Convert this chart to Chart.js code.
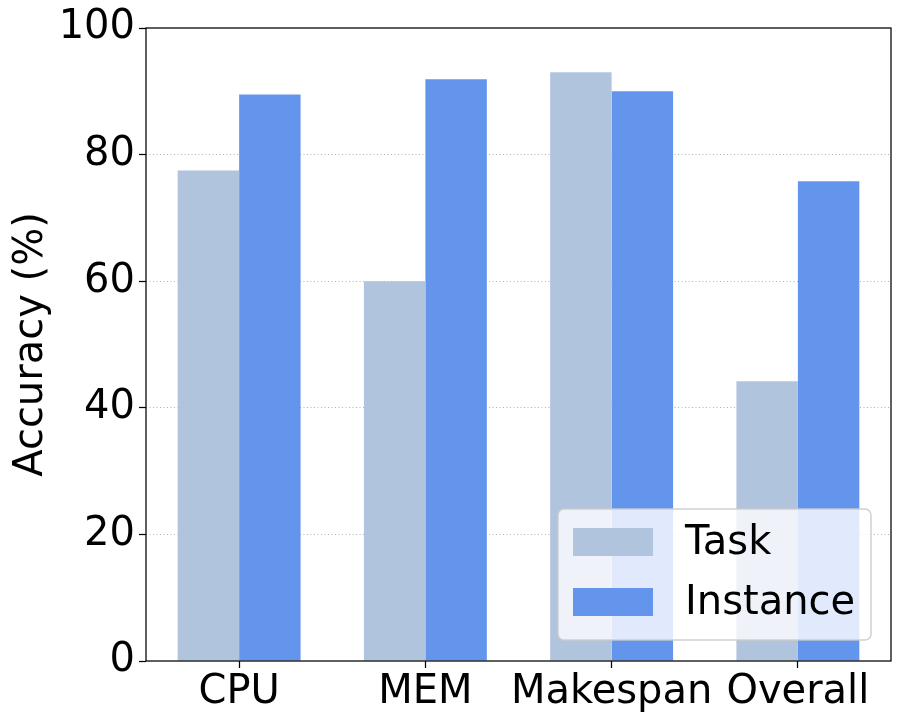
<!DOCTYPE html>
<html>
<head>
<meta charset="utf-8">
<script src="https://cdn.jsdelivr.net/npm/chart.js@4"></script>
<style>
html,body{margin:0;padding:0;background:#fff;}
#wrap{width:902px;height:725px;}
</style>
</head>
<body>
<div id="wrap"><canvas id="c" width="902" height="725"></canvas></div>
<script>
const categories = ["CPU", "MEM", "Makespan", "Overall"];
const taskValues = [77.5, 60.0, 93.0, 44.2];
const instanceValues = [89.5, 91.9, 90.0, 75.8];
const yTicks = [0, 20, 40, 60, 80, 100];
const seriesLabels = ["Task", "Instance"];

const FONT = "'DejaVu Sans', sans-serif";
const FS = 40;

const framePlugin = {
  id: 'frame',
  afterDraw(chart) {
    const {ctx, chartArea: a} = chart;
    ctx.save();
    ctx.strokeStyle = '#000';
    ctx.lineWidth = 1.25;
    ctx.strokeRect(a.left, a.top, a.right - a.left, a.bottom - a.top);
    ctx.restore();
  }
};

const legendPlugin = {
  id: 'boxLegend',
  afterDraw(chart) {
    const {ctx, chartArea: a} = chart;
    const x0 = a.right - 20 - 313, y0 = a.bottom - 21 - 131, w = 313, h = 131, r = 6;
    ctx.save();
    ctx.beginPath();
    ctx.moveTo(x0 + r, y0);
    ctx.arcTo(x0 + w, y0, x0 + w, y0 + h, r);
    ctx.arcTo(x0 + w, y0 + h, x0, y0 + h, r);
    ctx.arcTo(x0, y0 + h, x0, y0, r);
    ctx.arcTo(x0, y0, x0 + w, y0, r);
    ctx.closePath();
    ctx.fillStyle = 'rgba(255,255,255,0.8)';
    ctx.fill();
    ctx.strokeStyle = 'rgba(204,204,204,0.9)';
    ctx.lineWidth = 1.5;
    ctx.stroke();
    ctx.font = FS + 'px ' + FONT;
    ctx.textBaseline = 'middle';
    ctx.textAlign = 'left';
    chart.data.datasets.forEach((ds, i) => {
      const cy = y0 + 33 + i * 60;
      ctx.fillStyle = ds.backgroundColor;
      ctx.fillRect(x0 + 15, cy - 14, 80, 28);
      ctx.fillStyle = '#000';
      ctx.fillText(ds.label, x0 + 127, cy + 2);
    });
    ctx.restore();
  }
};

new Chart(document.getElementById('c'), {
  type: 'bar',
  data: {
    labels: categories,
    datasets: [
      { label: seriesLabels[0], data: taskValues, backgroundColor: '#B0C4DE', borderWidth: 0 },
      { label: seriesLabels[1], data: instanceValues, backgroundColor: '#6495ED', borderWidth: 0 }
    ]
  },
  options: {
    responsive: false,
    animation: false,
    devicePixelRatio: 1,
    layout: { padding: { left: 0, right: 11, top: 28, bottom: 0 } },
    datasets: { bar: { categoryPercentage: 0.66, barPercentage: 1.0 } },
    plugins: { legend: { display: false }, tooltip: { enabled: false } },
    scales: {
      x: {
        type: 'category',
        offset: true,
        grid: { display: true, offset: false, drawOnChartArea: false, tickLength: 7, tickColor: '#000', tickWidth: 1.25 },
        border: { display: false },
        ticks: { color: '#000', font: { family: FONT, size: FS }, padding: 1, maxRotation: 0, autoSkip: false },
        afterFit(s) { s.height = 64; }
      },
      y: {
        min: 0, max: 100,
        z: 1,
        afterBuildTicks(s) { s.ticks = yTicks.map(v => ({ value: v })); },
        grid: {
          color: (c) => (c.tick && (c.tick.value === 0 || c.tick.value === 100)) ? 'rgba(0,0,0,0)' : '#b0b0b0',
          lineWidth: 1,
          tickBorderDash: [],
          tickLength: 7,
          tickColor: '#000',
          tickWidth: 1.25
        },
        border: { display: false, dash: [1, 2.5] },
        ticks: { color: '#000', font: { family: FONT, size: FS }, padding: 4 },
        title: { display: true, text: 'Accuracy (%)', color: '#000', font: { family: FONT, size: FS }, padding: { top: 8, bottom: 8 } },
        afterFit(s) { s.width = 146; }
      }
    }
  },
  plugins: [framePlugin, legendPlugin]
});
</script>
</body>
</html>
